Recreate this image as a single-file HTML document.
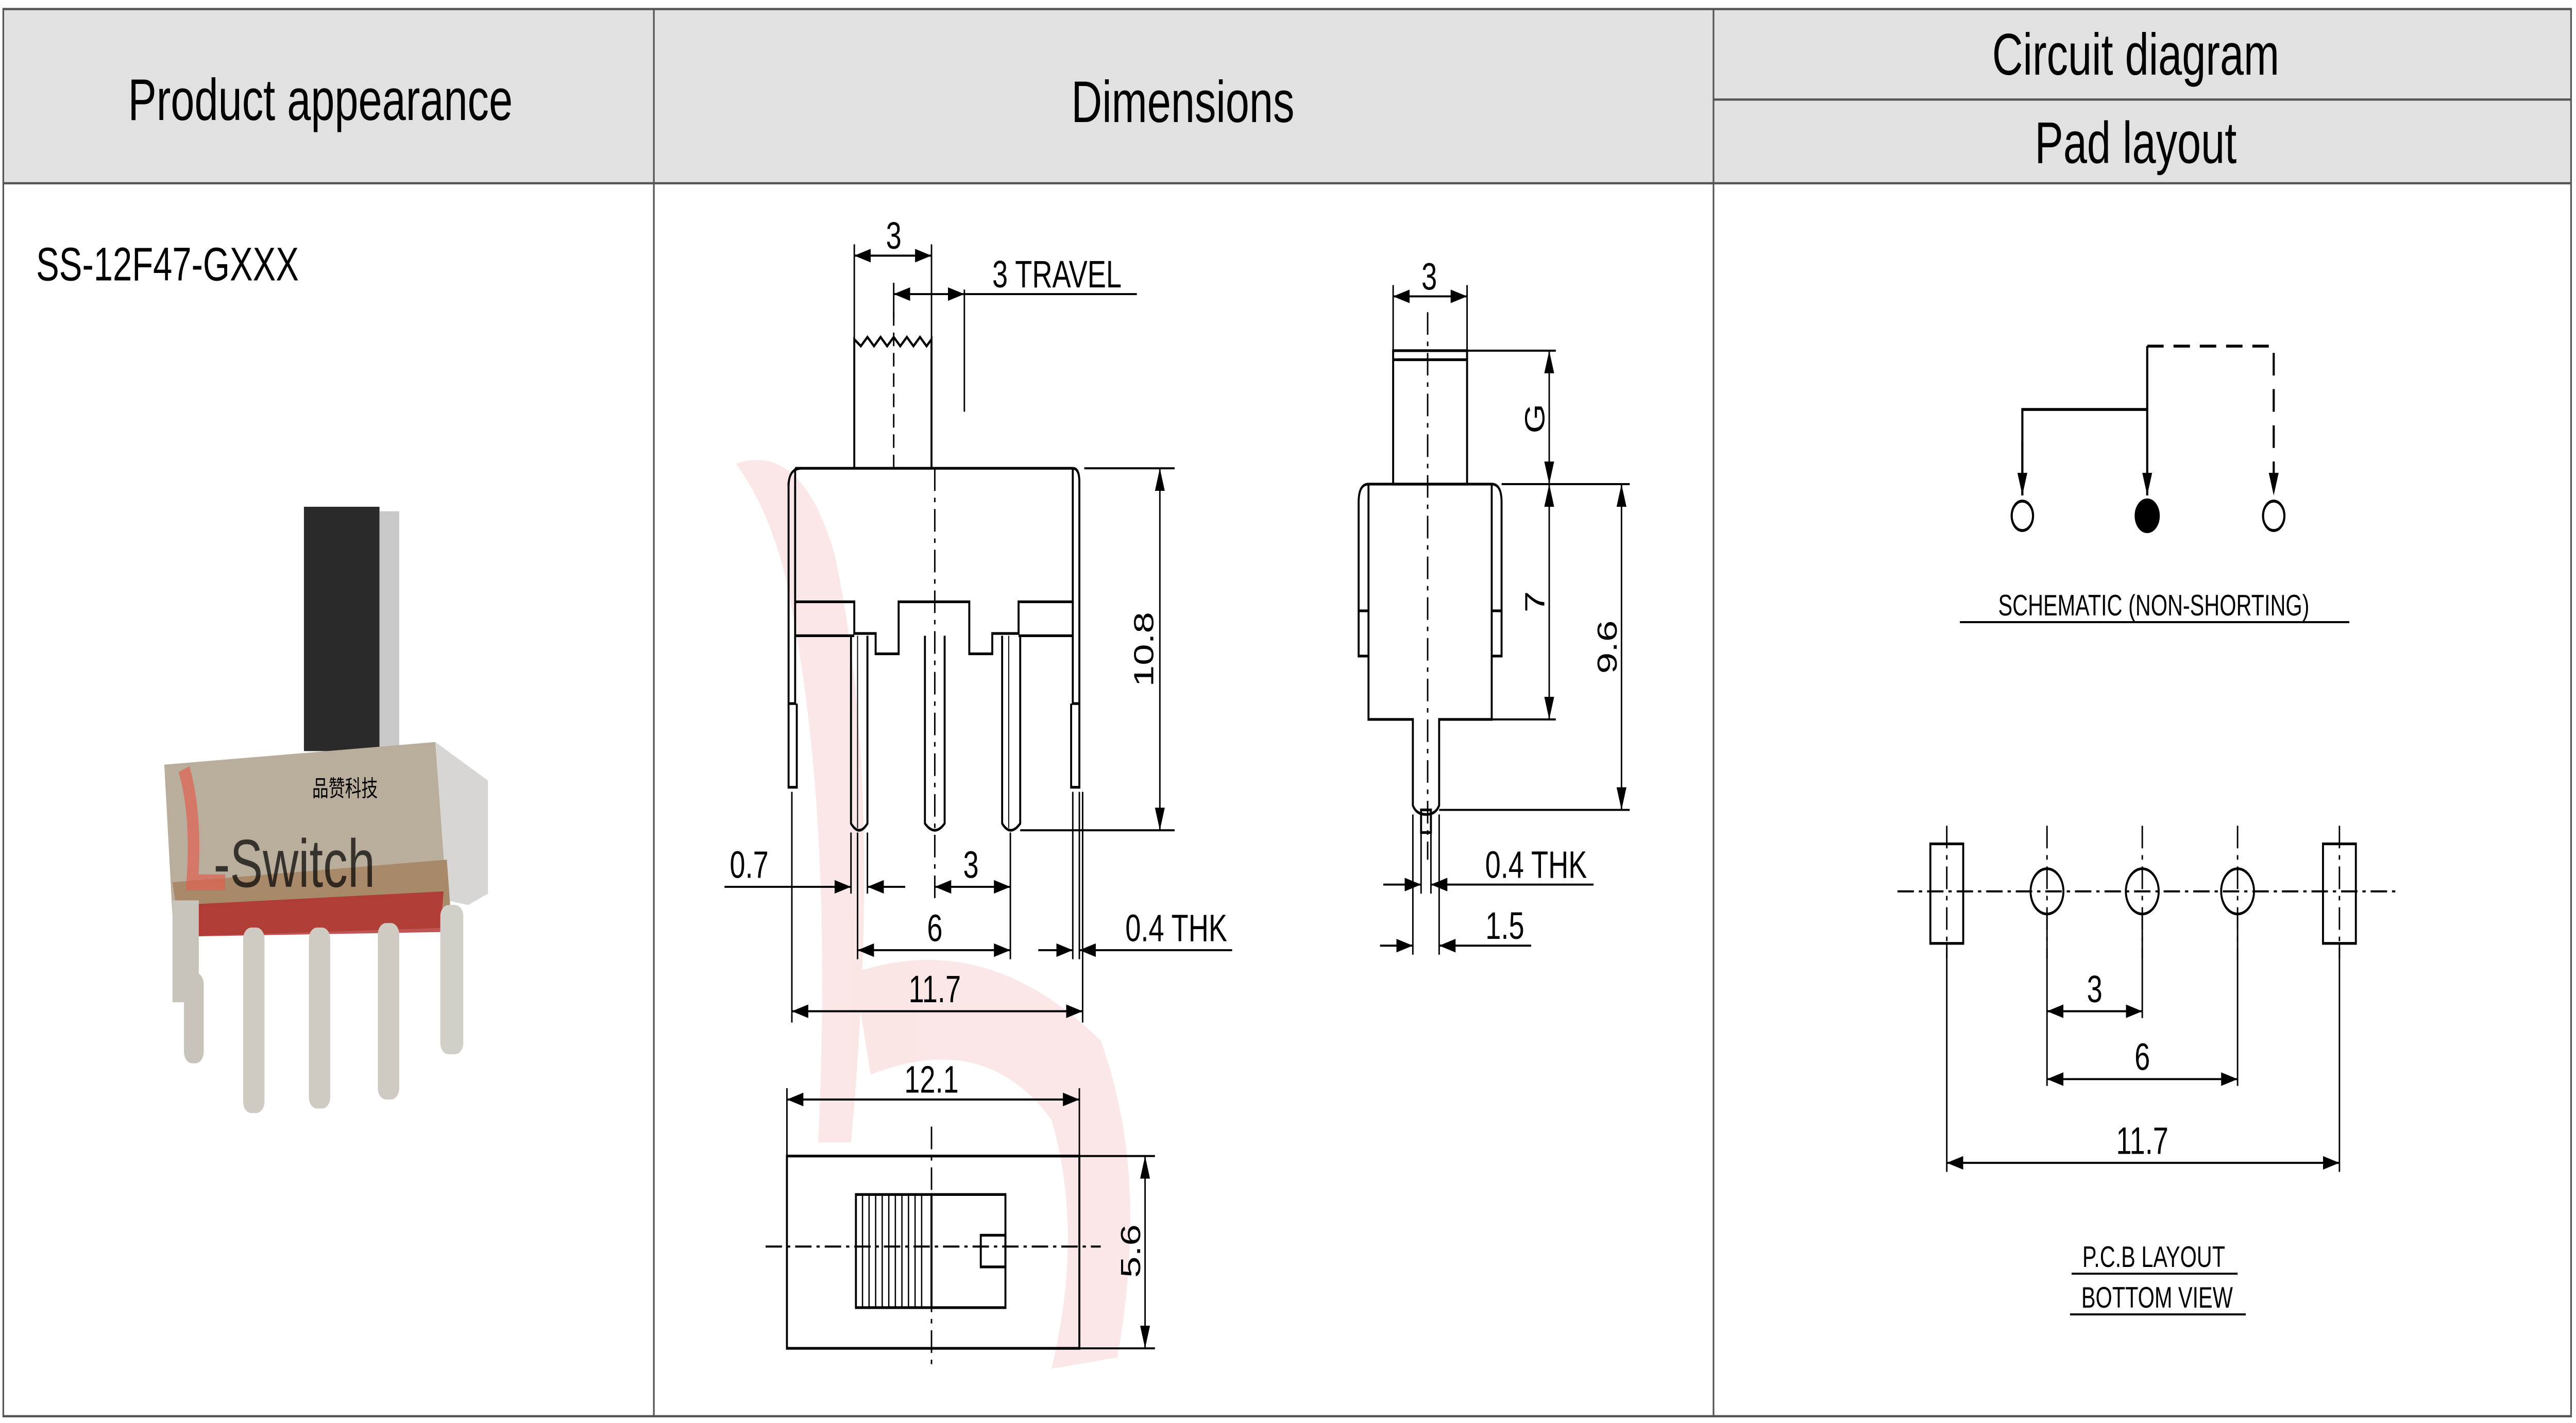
<!DOCTYPE html>
<html><head><meta charset="utf-8"><style>
html,body{margin:0;padding:0;background:#fff;width:100%;height:100%;overflow:hidden}
svg{display:block;width:100vw;height:100vh}
text{font-family:"Liberation Sans",Arial,sans-serif;fill:#000}
</style></head><body>
<svg viewBox="0 0 1568 629" preserveAspectRatio="none" xmlns="http://www.w3.org/2000/svg">
<defs>
<marker id="a" viewBox="0 0 10 6" refX="10" refY="3" markerWidth="10" markerHeight="6" orient="auto-start-reverse" markerUnits="userSpaceOnUse"><path d="M0,0 L10,3 L0,6 z" fill="#000"/></marker>
</defs>
<rect x="0" y="0" width="1568" height="629" fill="#fff"/>
<rect x="2" y="4" width="1563" height="77" fill="#e1e1e1"/>
<g stroke="#555" stroke-width="1" fill="none">
<rect x="2" y="4" width="1563" height="622"/>
<line x1="2" y1="81" x2="1565" y2="81"/>
<line x1="398" y1="4" x2="398" y2="626"/>
<line x1="1043" y1="4" x2="1043" y2="626"/>
<line x1="1043" y1="44" x2="1565" y2="44"/>
</g>
<text x="195" y="53" font-size="26" text-anchor="middle">Product appearance</text>
<text x="720" y="54" font-size="26" text-anchor="middle">Dimensions</text>
<text x="1300" y="33" font-size="26" text-anchor="middle">Circuit diagram</text>
<text x="1300" y="72" font-size="26" text-anchor="middle">Pad layout</text>
<text x="22" y="124" font-size="21">SS-12F47-GXXX</text>

<g>
<rect x="185" y="224" width="46" height="108" fill="#2a2a2a"/>
<rect x="231" y="226" width="12" height="106" fill="#c8c8c8"/>
<polygon points="100,338 265,328 272,398 105,405" fill="#b9ad9c"/>
<polygon points="265,328 297,345 297,395 285,400 272,398" fill="#d8d6d4"/>
<polygon points="105,390 272,380 275,410 110,414" fill="#a88a6a"/>
<polygon points="110,400 270,394 268,412 112,414" fill="#b22a2a" opacity="0.8"/>
<text x="210" y="352" font-size="10" fill="#555" text-anchor="middle" font-family="Noto Sans CJK SC">品赞科技</text>
<text x="130" y="392" font-size="30" fill="#7a6e60" font-family="Liberation Serif" opacity="0.7">-Switch</text>
<path d="M112,340 q8,20 5,50 l20,0" stroke="#e06050" stroke-width="7" fill="none" opacity="0.7"/>
<rect x="105" y="398" width="16" height="45" fill="#c8c3bb"/>
<rect x="112" y="430" width="12" height="40" rx="5" fill="#c8c3bb"/>
<rect x="148" y="410" width="13" height="82" rx="5" fill="#cfcac2"/>
<rect x="188" y="410" width="13" height="80" rx="5" fill="#cfcac2"/>
<rect x="230" y="408" width="13" height="78" rx="5" fill="#cfcac2"/>
<rect x="268" y="400" width="14" height="66" rx="5" fill="#d2cec8"/>
</g>

<g fill="#fbe4e4" opacity="0.9">
<path d="M448,205 q40,-10 60,40 q30,100 10,260 l-20,0 q10,-150 -20,-250 q-10,-30 -30,-50z"/>
<path d="M520,430 q80,-20 150,30 q30,60 10,140 l-40,5 q20,-60 0,-110 q-40,-40 -110,-20z"/>
</g>

<g stroke="#000" stroke-width="1.2" fill="none">
<path d="M520,207 L520,150 l4,3 l4,-4 l4,4 l4,-4 l4,4 l4,-4 l4,4 l4,-4 l4,4 l4,-4 l4,4 L567,150 L567,207"/>
<path d="M484,207 L653,207 M480,215 Q480,207 488,207"/>
<path d="M484,207 L484,266 L520,266 L520,280 L533,280 L533,289 L547,289 L547,266 L590,266 L590,289 L604,289 L604,280 L620,280 L620,266 L653,266 L653,207"/>
<path d="M484,281 L520,281 M620,281 L653,281"/>
<path d="M480,213 L480,348 L485,348 L485,311 M484,266 L484,311 L480,311"/>
<path d="M657,213 L657,348 L652,348 L652,311 M653,266 L653,311 L657,311"/>
<path d="M653,207 Q657,207 657,213"/>
<path d="M518,281 L518,364 Q523,370 528,364 L528,281"/>
<path d="M563,281 L563,364 Q569,370 575,364 L575,281"/>
<path d="M610,281 L610,364 Q615,370 621,364 L621,281"/>
<line x1="522" y1="281" x2="522" y2="366" stroke-width="0.6"/>
<line x1="614" y1="281" x2="614" y2="366" stroke-width="0.6"/>
</g>
<g stroke="#000" stroke-width="0.9" fill="none">
<line x1="544" y1="138" x2="544" y2="207" stroke-dasharray="6,3"/>
<line x1="569" y1="207" x2="569" y2="400" stroke-dasharray="10,3,2,3"/>
<line x1="520" y1="108" x2="520" y2="150"/><line x1="567" y1="108" x2="567" y2="150"/>
<line x1="520" y1="113" x2="567" y2="113" marker-start="url(#a)" marker-end="url(#a)"/>
<line x1="544" y1="125" x2="544" y2="140"/>
<line x1="544" y1="130" x2="587" y2="130" marker-start="url(#a)" marker-end="url(#a)"/>
<line x1="587" y1="130" x2="692" y2="130"/><line x1="587" y1="128" x2="587" y2="182"/>
<line x1="660" y1="207" x2="715" y2="207"/><line x1="621" y1="367" x2="715" y2="367"/>
<line x1="706" y1="207" x2="706" y2="367" marker-start="url(#a)" marker-end="url(#a)"/>
<line x1="518" y1="368" x2="518" y2="395"/><line x1="528" y1="368" x2="528" y2="395"/>
<line x1="522" y1="368" x2="522" y2="424"/><line x1="615" y1="368" x2="615" y2="424"/>
<line x1="482" y1="350" x2="482" y2="452"/><line x1="659" y1="350" x2="659" y2="452"/>
<line x1="653" y1="350" x2="653" y2="424"/><line x1="657" y1="350" x2="657" y2="424"/>
<line x1="441" y1="392" x2="518" y2="392" marker-end="url(#a)"/>
<line x1="551" y1="392" x2="528" y2="392" marker-end="url(#a)"/>
<line x1="569" y1="392" x2="615" y2="392" marker-start="url(#a)" marker-end="url(#a)"/>
<line x1="522" y1="420" x2="615" y2="420" marker-start="url(#a)" marker-end="url(#a)"/>
<line x1="632" y1="420" x2="653" y2="420" marker-end="url(#a)"/>
<line x1="750" y1="420" x2="657" y2="420" marker-end="url(#a)"/>
<line x1="482" y1="447" x2="659" y2="447" marker-start="url(#a)" marker-end="url(#a)"/>
</g>
<g font-size="17">
<text x="544" y="110" text-anchor="middle">3</text>
<text x="604" y="127">3 TRAVEL</text>
<text x="456" y="388" text-anchor="middle">0.7</text>
<text x="591" y="388" text-anchor="middle">3</text>
<text x="569" y="416" text-anchor="middle">6</text>
<text x="716" y="416" text-anchor="middle">0.4 THK</text>
<text x="569" y="443" text-anchor="middle">11.7</text>
<text transform="translate(702,287) rotate(-90)" text-anchor="middle">10.8</text>
</g>

<g stroke="#000" stroke-width="1.2" fill="none">
<rect x="848" y="155" width="45" height="59"/>
<line x1="848" y1="159" x2="893" y2="159"/>
<path d="M833,214 L908,214 M833,214 L833,318 L860,318 L860,356 Q862,360 868,360 Q874,360 876,356 L876,318 L908,318 L908,214"/>
<path d="M833,214 Q827,214 827,222 L827,290 L833,290 M827,270 L833,270"/>
<path d="M908,214 Q914,214 914,222 L914,290 L908,290 M914,270 L908,270"/>
<rect x="865" y="358" width="6" height="10"/>
</g>
<g stroke="#000" stroke-width="0.9" fill="none">
<line x1="869" y1="138" x2="869" y2="380" stroke-dasharray="10,3,2,3"/>
<line x1="848" y1="126" x2="848" y2="155"/><line x1="893" y1="126" x2="893" y2="155"/>
<line x1="848" y1="131" x2="893" y2="131" marker-start="url(#a)" marker-end="url(#a)"/>
<line x1="893" y1="155" x2="947" y2="155"/><line x1="914" y1="214" x2="992" y2="214"/><line x1="908" y1="318" x2="947" y2="318"/>
<line x1="876" y1="358" x2="992" y2="358"/>
<line x1="943" y1="155" x2="943" y2="214" marker-start="url(#a)" marker-end="url(#a)"/>
<line x1="943" y1="214" x2="943" y2="318" marker-start="url(#a)" marker-end="url(#a)"/>
<line x1="987" y1="214" x2="987" y2="358" marker-start="url(#a)" marker-end="url(#a)"/>
<line x1="865" y1="368" x2="865" y2="395"/><line x1="871" y1="368" x2="871" y2="395"/>
<line x1="860" y1="360" x2="860" y2="422"/><line x1="876" y1="360" x2="876" y2="422"/>
<line x1="842" y1="391" x2="865" y2="391" marker-end="url(#a)"/>
<line x1="970" y1="391" x2="871" y2="391" marker-end="url(#a)"/>
<line x1="840" y1="418" x2="860" y2="418" marker-end="url(#a)"/>
<line x1="932" y1="418" x2="876" y2="418" marker-end="url(#a)"/>
</g>
<g font-size="17">
<text x="870" y="128" text-anchor="middle">3</text>
<text transform="translate(940,185) rotate(-90)" text-anchor="middle">G</text>
<text transform="translate(940,266) rotate(-90)" text-anchor="middle">7</text>
<text transform="translate(984,286) rotate(-90)" text-anchor="middle">9.6</text>
<text x="935" y="388" text-anchor="middle">0.4 THK</text>
<text x="916" y="415" text-anchor="middle">1.5</text>
</g>

<g stroke="#000" stroke-width="1.2" fill="none">
<rect x="479" y="511" width="178" height="85"/>
<rect x="521" y="528" width="46" height="50"/>
<rect x="567" y="528" width="45" height="50"/>
<rect x="597" y="546" width="15" height="14"/>
</g>
<g stroke="#000" stroke-width="0.8">
<line x1="525" y1="528" x2="525" y2="578"/><line x1="529" y1="528" x2="529" y2="578"/><line x1="533" y1="528" x2="533" y2="578"/><line x1="537" y1="528" x2="537" y2="578"/><line x1="541" y1="528" x2="541" y2="578"/><line x1="545" y1="528" x2="545" y2="578"/><line x1="549" y1="528" x2="549" y2="578"/><line x1="553" y1="528" x2="553" y2="578"/><line x1="557" y1="528" x2="557" y2="578"/><line x1="561" y1="528" x2="561" y2="578"/>
</g>
<g stroke="#000" stroke-width="0.9" fill="none">
<line x1="466" y1="551" x2="670" y2="551" stroke-dasharray="10,3,2,3"/>
<line x1="567" y1="498" x2="567" y2="606" stroke-dasharray="10,3,2,3"/>
<line x1="479" y1="481" x2="479" y2="511"/><line x1="657" y1="481" x2="657" y2="511"/>
<line x1="479" y1="486" x2="657" y2="486" marker-start="url(#a)" marker-end="url(#a)"/>
<line x1="657" y1="511" x2="703" y2="511"/><line x1="657" y1="596" x2="703" y2="596"/>
<line x1="697" y1="511" x2="697" y2="596" marker-start="url(#a)" marker-end="url(#a)"/>
</g>
<g font-size="17">
<text x="567" y="483" text-anchor="middle">12.1</text>
<text transform="translate(694,553) rotate(-90)" text-anchor="middle">5.6</text>
</g>

<g stroke="#000" stroke-width="1.3" fill="none">
<path d="M1231,219 L1231,181 L1307,181"/>
<line x1="1307" y1="153" x2="1307" y2="219" marker-end="url(#a)"/>
<line x1="1231" y1="195" x2="1231" y2="219" marker-end="url(#a)"/>
<path d="M1307,153 L1384,153 L1384,219" stroke-dasharray="10,6" marker-end="url(#a)"/>
<circle cx="1231" cy="228" r="6.5" fill="#fff"/>
<circle cx="1307" cy="228" r="7" fill="#000"/>
<circle cx="1384" cy="228" r="6.5" fill="#fff"/>
</g>
<text x="1311" y="272" font-size="13" text-anchor="middle">SCHEMATIC (NON-SHORTING)</text>
<line x1="1193" y1="275" x2="1430" y2="275" stroke="#000" stroke-width="0.9"/>

<g stroke="#000" stroke-width="1.2" fill="none">
<rect x="1175" y="373" width="20" height="44"/>
<rect x="1414" y="373" width="20" height="44"/>
<circle cx="1246" cy="394" r="10"/>
<circle cx="1304" cy="394" r="10"/>
<circle cx="1362" cy="394" r="10"/>
</g>
<g stroke="#000" stroke-width="0.9" fill="none">
<line x1="1155" y1="394" x2="1458" y2="394" stroke-dasharray="10,3,2,3"/>
<line x1="1246" y1="365" x2="1246" y2="424" stroke-dasharray="10,3,2,3"/>
<line x1="1304" y1="365" x2="1304" y2="424" stroke-dasharray="10,3,2,3"/>
<line x1="1362" y1="365" x2="1362" y2="424" stroke-dasharray="10,3,2,3"/>
<line x1="1185" y1="365" x2="1185" y2="424" stroke-dasharray="10,3,2,3"/>
<line x1="1424" y1="365" x2="1424" y2="424" stroke-dasharray="10,3,2,3"/>
<line x1="1246" y1="404" x2="1246" y2="480"/><line x1="1304" y1="404" x2="1304" y2="450"/>
<line x1="1362" y1="404" x2="1362" y2="480"/>
<line x1="1185" y1="417" x2="1185" y2="518"/><line x1="1424" y1="417" x2="1424" y2="518"/>
<line x1="1246" y1="447" x2="1304" y2="447" marker-start="url(#a)" marker-end="url(#a)"/>
<line x1="1246" y1="477" x2="1362" y2="477" marker-start="url(#a)" marker-end="url(#a)"/>
<line x1="1185" y1="514" x2="1424" y2="514" marker-start="url(#a)" marker-end="url(#a)"/>
</g>
<g font-size="17">
<text x="1275" y="443" text-anchor="middle">3</text>
<text x="1304" y="473" text-anchor="middle">6</text>
<text x="1304" y="510" text-anchor="middle">11.7</text>
</g>
<text x="1311" y="560" font-size="13" text-anchor="middle">P.C.B LAYOUT</text>
<line x1="1261" y1="563" x2="1362" y2="563" stroke="#000" stroke-width="0.9"/>
<text x="1313" y="578" font-size="13" text-anchor="middle">BOTTOM VIEW</text>
<line x1="1260" y1="581" x2="1367" y2="581" stroke="#000" stroke-width="0.9"/>
</svg>
</body></html>
